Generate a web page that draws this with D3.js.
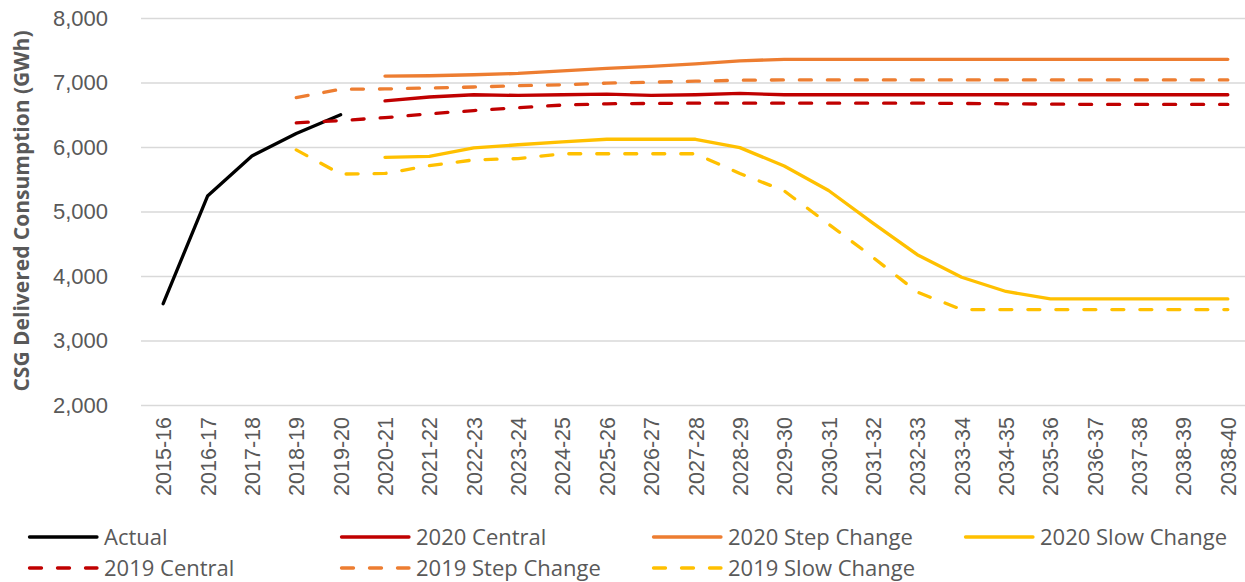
<!DOCTYPE html>
<html>
<head>
<meta charset="utf-8">
<script src="https://cdn.jsdelivr.net/npm/d3@7"></script>
<style>
  html, body { margin: 0; padding: 0; background: #fff; }
  svg { display: block; font-family: "Open Sans", "Noto Sans", sans-serif; }
</style>
</head>
<body>
<svg id="chart" width="1245" height="582"></svg>
<script>
const categories = ["2015-16","2016-17","2017-18","2018-19","2019-20","2020-21","2021-22","2022-23","2023-24","2024-25","2025-26","2026-27","2027-28","2028-29","2029-30","2030-31","2031-32","2032-33","2033-34","2034-35","2035-36","2036-37","2037-38","2038-39","2038-40"];

const actual      = [3570, 5240, 5860, 6210, 6500, null, null, null, null, null, null, null, null, null, null, null, null, null, null, null, null, null, null, null, null];
const central2020 = [null, null, null, null, null, 6715, 6775, 6810, 6800, 6810, 6820, 6800, 6810, 6830, 6810, 6810, 6810, 6810, 6810, 6810, 6810, 6810, 6810, 6810, 6810];
const step2020    = [null, null, null, null, null, 7100, 7105, 7120, 7140, 7180, 7220, 7250, 7290, 7335, 7360, 7360, 7360, 7360, 7360, 7360, 7360, 7360, 7360, 7360, 7360];
const slow2020    = [null, null, null, null, null, 5840, 5855, 5985, 6035, 6080, 6120, 6120, 6120, 5990, 5705, 5325, 4820, 4330, 3980, 3760, 3645, 3645, 3645, 3645, 3645];
const central2019 = [null, null, null, 6375, 6410, 6455, 6515, 6565, 6610, 6650, 6670, 6675, 6680, 6680, 6680, 6680, 6680, 6680, 6675, 6670, 6665, 6660, 6660, 6660, 6660];
const step2019    = [null, null, null, 6765, 6895, 6900, 6915, 6930, 6950, 6965, 6990, 7005, 7020, 7035, 7040, 7040, 7040, 7040, 7040, 7040, 7040, 7040, 7040, 7040, 7040];
const slow2019    = [null, null, null, 5955, 5580, 5590, 5710, 5800, 5820, 5895, 5895, 5895, 5895, 5590, 5320, 4805, 4290, 3750, 3480, 3480, 3480, 3480, 3480, 3480, 3480];

const yTicks = [2000, 3000, 4000, 5000, 6000, 7000, 8000];

const series = [
  { name: "Actual",           values: actual,      color: "#000000", dashed: false },
  { name: "2020 Central",     values: central2020, color: "#C00000", dashed: false },
  { name: "2020 Step Change", values: step2020,    color: "#ED7D31", dashed: false },
  { name: "2020 Slow Change", values: slow2020,    color: "#FFC000", dashed: false },
  { name: "2019 Central",     values: central2019, color: "#C00000", dashed: true },
  { name: "2019 Step Change", values: step2019,    color: "#ED7D31", dashed: true },
  { name: "2019 Slow Change", values: slow2019,    color: "#FFC000", dashed: true }
];

const svg = d3.select("#chart");
const textColor = "#595959";
const plotLeft = 141, plotRight = 1250, plotTop = 18, plotBottom = 405;

const x = d3.scalePoint().domain(categories).range([plotLeft, plotRight]).padding(0.5);
const y = d3.scaleLinear().domain([2000, 8000]).range([plotBottom, plotTop]);

// gridlines
const yAxis = d3.axisLeft(y).tickValues(yTicks).tickSize(-(plotRight - plotLeft)).tickFormat(d3.format(","));
const gy = svg.append("g").attr("transform", `translate(${plotLeft},0)`).call(yAxis);
gy.select(".domain").remove();
gy.selectAll(".tick line").attr("stroke", "#D9D9D9").attr("stroke-width", 1.3);
gy.selectAll(".tick text")
  .attr("x", -33)
  .attr("fill", textColor)
  .style("font-size", "22px");

// x axis labels
const xAxis = d3.axisBottom(x).tickSize(0);
const gx = svg.append("g").attr("transform", `translate(0,${plotBottom})`).call(xAxis);
gx.select(".domain").remove();
gx.selectAll(".tick text")
  .attr("fill", textColor)
  .style("font-size", "21.5px")
  .attr("text-anchor", "end")
  .attr("transform", "rotate(-90)")
  .attr("x", -12)
  .attr("y", 0)
  .attr("dy", "0.35em");

// y axis title
svg.append("text")
  .attr("transform", "translate(22,211) rotate(-90)")
  .attr("text-anchor", "middle")
  .attr("dy", "0.35em")
  .attr("fill", textColor)
  .style("font-size", "21px")
  .style("font-weight", "bold")
  .text("CSG Delivered Consumption (GWh)");

// lines
const line = d3.line()
  .defined(d => d.v != null)
  .x(d => x(d.c))
  .y(d => y(d.v));

series.forEach(s => {
  const pts = categories.map((c, i) => ({ c: c, v: s.values[i] }));
  svg.append("path")
    .datum(pts)
    .attr("fill", "none")
    .attr("stroke", s.color)
    .attr("stroke-width", 3.3)
    .attr("stroke-linejoin", "round")
    .attr("stroke-linecap", "round")
    .attr("stroke-dasharray", s.dashed ? "12,16" : null)
    .attr("d", line);
});

// legend
const colX = [28, 340, 652, 964];
const rowY = [537, 568];
series.forEach((s, i) => {
  const row = i < 4 ? 0 : 1;
  const col = i < 4 ? i : i - 4;
  const g = svg.append("g").attr("transform", `translate(${colX[col]},${rowY[row]})`);
  g.append("line")
    .attr("x1", 1.5).attr("x2", 69)
    .attr("y1", 0).attr("y2", 0)
    .attr("stroke", s.color)
    .attr("stroke-width", 3.3)
    .attr("stroke-linecap", "round")
    .attr("stroke-dasharray", s.dashed ? "12,16" : null);
  g.append("text")
    .attr("x", 76)
    .attr("y", 0)
    .attr("dy", "0.35em")
    .attr("fill", textColor)
    .style("font-size", "22px")
    .text(s.name);
});
</script>
</body>
</html>
